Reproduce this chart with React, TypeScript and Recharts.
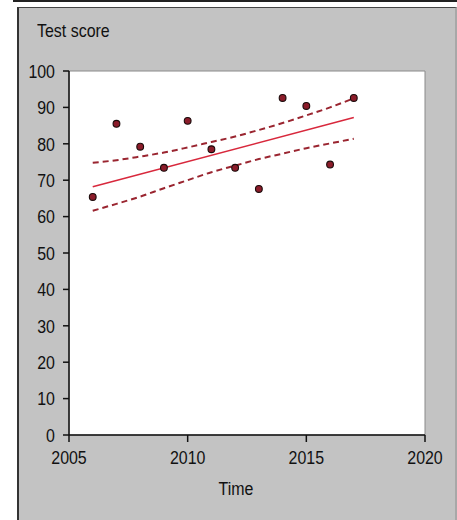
import React from 'react';
import { ComposedChart, Scatter, Line, XAxis, YAxis, CartesianGrid, ReferenceArea, Label } from 'recharts';

const years = [2006, 2007, 2008, 2009, 2010, 2011, 2012, 2013, 2014, 2015, 2016, 2017];
const scores = [65.4, 85.5, 79.2, 73.4, 86.3, 78.5, 73.4, 67.6, 92.6, 90.4, 74.3, 92.6];
const upperBand = [74.8, 75.5, 76.5, 77.6, 79.0, 80.5, 82.0, 83.8, 85.7, 87.8, 90.0, 92.5];
const lowerBand = [61.6, 63.5, 65.5, 67.8, 70.0, 72.2, 74.0, 75.8, 77.3, 78.8, 80.1, 81.4];
const fitYears = [2006, 2017];
const fitValues = [68.2, 87.2];
const xTicks = [2005, 2010, 2015, 2020];
const yTicks = [0, 10, 20, 30, 40, 50, 60, 70, 80, 90, 100];

const pointData = years.map((t, i) => ({ t, v: scores[i] }));
const upperData = years.map((t, i) => ({ t, v: upperBand[i] }));
const lowerData = years.map((t, i) => ({ t, v: lowerBand[i] }));
const fitData = fitYears.map((t, i) => ({ t, v: fitValues[i] }));

const FONT = '"Liberation Sans", Arial, sans-serif';
const SQUEEZE = 0.84;

const NarrowTick = (props: any) => {
  const { x, y, payload, textAnchor, verticalAnchor, orientation } = props;
  const dy = orientation === 'bottom' ? '0.71em' : '0.355em';
  return (
    <g transform={`translate(${x},${y}) scale(${SQUEEZE},1)`}>
      <text x={0} y={0} dy={dy} textAnchor={textAnchor} fill="#111" fontSize={19} fontFamily={FONT}>
        {payload.value}
      </text>
    </g>
  );
};

const Dot = (props: any) => {
  const { cx, cy } = props;
  if (cx == null || cy == null) return null;
  return <circle cx={cx} cy={cy} r={3.4} fill="#8b1c2a" stroke="#1a0a0a" strokeWidth={1.1} />;
};

export default function App() {
  return (
    <div style={{ position: 'absolute', left: 0, top: 0, width: 457, height: 520, background: '#fff', overflow: 'hidden' }}>
      <div style={{ position: 'absolute', left: 13, top: 0, width: 444, height: 2, background: '#222' }} />
      <div style={{ position: 'absolute', left: 17, top: 7, width: 436, height: 513, background: '#c3c3c3', borderLeft: '2px solid #333', borderTop: '1px solid #444', borderRight: '2px solid #a8a8a8' }} />
      <div style={{ position: 'absolute', left: 37, top: 20, fontFamily: FONT, fontSize: 19, color: '#111', transform: `scaleX(${SQUEEZE})`, transformOrigin: 'left center', whiteSpace: 'nowrap' }}>Test score</div>
      <div style={{ position: 'absolute', left: 0, top: 0 }}>
        <ComposedChart width={457} height={520} margin={{ top: 71, right: 32, bottom: 25, left: 9 }}>
          <CartesianGrid fill="#ffffff" stroke="none" />
          <ReferenceArea x1={2005} x2={2020} y1={0} y2={100} fill="none" stroke="#8a8a8a" strokeWidth={1} ifOverflow="visible" />
          <XAxis
            type="number"
            dataKey="t"
            domain={[2005, 2020]}
            ticks={xTicks}
            height={60}
            tickSize={7}
            tickMargin={8}
            axisLine={{ stroke: '#111', strokeWidth: 1.5 }}
            tickLine={{ stroke: '#111', strokeWidth: 1.5 }}
            tick={<NarrowTick />}
            allowDuplicatedCategory={false}
          >
            <Label
              content={(p: any) => {
                const vb = p.viewBox;
                const cx = vb.x + vb.width / 2 - 11;
                const cy = vb.y + 60;
                return (
                  <g transform={`translate(${cx},${cy}) scale(${SQUEEZE},1)`}>
                    <text x={0} y={0} textAnchor="middle" fill="#111" fontSize={19} fontFamily={FONT}>Time</text>
                  </g>
                );
              }}
            />
          </XAxis>
          <YAxis
            type="number"
            dataKey="v"
            domain={[0, 100]}
            ticks={yTicks}
            width={60}
            tickSize={6}
            tickMargin={8}
            axisLine={{ stroke: '#111', strokeWidth: 1.5 }}
            tickLine={{ stroke: '#111', strokeWidth: 1.5 }}
            tick={<NarrowTick />}
          />
          <Line data={upperData} dataKey="v" type="monotone" stroke="#9a2530" strokeWidth={2} strokeDasharray="6 4" dot={false} isAnimationActive={false} />
          <Line data={lowerData} dataKey="v" type="monotone" stroke="#9a2530" strokeWidth={2} strokeDasharray="6 4" dot={false} isAnimationActive={false} />
          <Line data={fitData} dataKey="v" type="linear" stroke="#d8283c" strokeWidth={1.6} dot={false} isAnimationActive={false} />
          <Scatter data={pointData} dataKey="v" shape={<Dot />} isAnimationActive={false} />
        </ComposedChart>
      </div>
    </div>
  );
}
